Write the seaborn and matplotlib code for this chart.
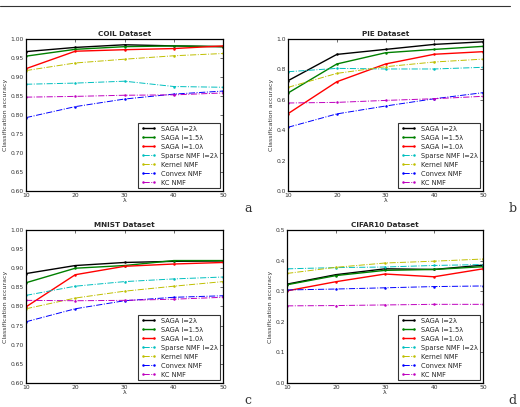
import numpy as np
import pandas as pd
import seaborn as sns
import matplotlib
matplotlib.use("Agg")
import matplotlib.pyplot as plt
from matplotlib.lines import Line2D

# lambda values on the x axis
lam = [10, 20, 30, 40, 50]

methods = ["SAGA l=2λ", "SAGA l=1.5λ", "SAGA l=1.0λ", "Sparse NMF l=2λ",
           "Kernel NMF", "Convex NMF", "KC NMF"]
colors = ["k", "g", "r", "c", "y", "b", "m"]
styles = ["-", "-", "-", "-.", "-.", "-.", "-."]

# classification accuracy, one list per method
coil = [
    [0.967, 0.978, 0.985, 0.982, 0.980],
    [0.955, 0.973, 0.980, 0.982, 0.980],
    [0.922, 0.968, 0.972, 0.975, 0.982],
    [0.881, 0.884, 0.889, 0.875, 0.873],
    [0.917, 0.937, 0.947, 0.956, 0.962],
    [0.793, 0.822, 0.842, 0.855, 0.863],
    [0.847, 0.849, 0.852, 0.853, 0.858],
]
pie = [
    [0.726, 0.899, 0.932, 0.965, 0.982],
    [0.645, 0.836, 0.910, 0.932, 0.952],
    [0.509, 0.719, 0.836, 0.900, 0.917],
    [0.785, 0.807, 0.803, 0.803, 0.814],
    [0.682, 0.774, 0.818, 0.849, 0.868],
    [0.419, 0.507, 0.559, 0.607, 0.647],
    [0.579, 0.583, 0.596, 0.607, 0.623],
]
mnist = [
    [0.886, 0.907, 0.915, 0.918, 0.919],
    [0.862, 0.900, 0.907, 0.920, 0.920],
    [0.799, 0.883, 0.905, 0.911, 0.915],
    [0.829, 0.853, 0.865, 0.872, 0.877],
    [0.794, 0.822, 0.840, 0.853, 0.865],
    [0.760, 0.794, 0.815, 0.824, 0.828],
    [0.816, 0.815, 0.816, 0.819, 0.824],
]
cifar = [
    [0.323, 0.354, 0.373, 0.371, 0.385],
    [0.321, 0.351, 0.368, 0.371, 0.380],
    [0.301, 0.331, 0.356, 0.347, 0.373],
    [0.373, 0.377, 0.379, 0.384, 0.387],
    [0.358, 0.378, 0.392, 0.398, 0.405],
    [0.304, 0.307, 0.311, 0.315, 0.317],
    [0.252, 0.253, 0.255, 0.257, 0.257],
]

panels = [
    ("COIL Dataset", coil, (0.6, 1.0), np.arange(0.6, 1.001, 0.05), "%.2f", "a"),
    ("PIE Dataset", pie, (0.0, 1.0), np.arange(0.0, 1.001, 0.2), "%.1f", "b"),
    ("MNIST Dataset", mnist, (0.6, 1.0), np.arange(0.6, 1.001, 0.05), "%.2f", "c"),
    ("CIFAR10 Dataset", cifar, (0.0, 0.5), np.arange(0.0, 0.501, 0.1), "%.1f", "d"),
]

# axes boxes in figure fractions [left, bottom, width, height]
boxes = [
    [0.050, 0.531, 0.379, 0.373],
    [0.554, 0.531, 0.375, 0.373],
    [0.050, 0.059, 0.379, 0.376],
    [0.552, 0.059, 0.377, 0.376],
]
letter_pos = [(0.470, 0.478), (0.978, 0.48), (0.470, 0.008), (0.978, 0.008)]

sns.set_style("white")
plt.rcParams["font.family"] = ["DejaVu Sans"]

fig = plt.figure(figsize=(5.2, 4.07), dpi=100)
fig.add_artist(Line2D([0.0, 0.981], [0.985, 0.985], color="#333333", lw=0.8))

for (title, vals, ylim, yt, fmt, letter), box, lp in zip(panels, boxes, letter_pos):
    ax = fig.add_axes(box)
    rows = []
    for m, v in zip(methods, vals):
        for x, y in zip(lam, v):
            rows.append({"lam": x, "acc": y, "method": m})
    df = pd.DataFrame(rows)
    for m, c, ls in zip(methods, colors, styles):
        sub = df[df["method"] == m]
        sns.lineplot(data=sub, x="lam", y="acc", ax=ax, color=c, linestyle=ls,
                     lw=1.0 if ls == "-" else 0.7, marker="o", markersize=1.8,
                     markeredgewidth=0, label=m)
    ax.set_xlim(10, 50)
    ax.set_ylim(*ylim)
    ax.set_xticks(lam)
    ax.set_yticks(yt)
    ax.set_yticklabels([fmt % t for t in yt])
    ax.tick_params(direction="in", length=2.5, width=0.5, labelsize=4.3, pad=1.5,
                   top=True, right=True, colors="#333333")
    for s in ax.spines.values():
        s.set_linewidth(0.9)
        s.set_color("black")
    ax.set_title(title, fontsize=5.2, fontweight="bold", pad=2)
    ax.set_xlabel("λ", fontsize=4.5, labelpad=0)
    ax.set_ylabel("Classification accuracy", fontsize=4.5, labelpad=1.5, color="#333333")
    leg = ax.legend(loc="lower right", fontsize=4.8, frameon=True, fancybox=False,
                    borderpad=0.4, labelspacing=0.45, handlelength=2.2,
                    borderaxespad=0.4, numpoints=2)
    leg.get_frame().set_edgecolor("black")
    leg.get_frame().set_linewidth(0.8)
    fig.text(lp[0], lp[1], letter, fontsize=9, family="DejaVu Serif", color="#333333")

fig.savefig("out.png", dpi=100)
